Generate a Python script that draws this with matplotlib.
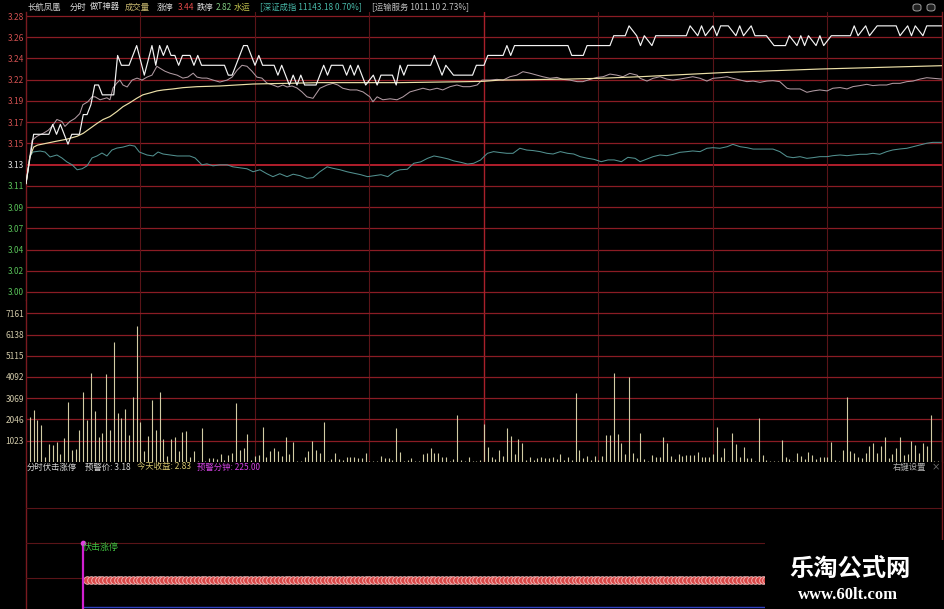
import matplotlib.pyplot as plt
from matplotlib.patches import Rectangle, FancyBboxPatch

plt.rcParams["font.family"] = ["Noto Sans CJK SC", "DejaVu Sans"]

W, H = 945, 609

# price axis: evenly spaced grid, labels as printed by the terminal
PRICE_LABELS = ["3.28", "3.26", "3.24", "3.22", "3.19", "3.17", "3.15",
                "3.13", "3.11", "3.09", "3.07", "3.04", "3.02", "3.00"]
PREV_CLOSE_ROW = 7
VOL_LABELS = [1023, 2046, 3069, 4092, 5115, 6138, 7161]

# last price (minute, price)
PRICE_T = [0, 2, 6, 7, 8, 9, 10, 11, 12, 14, 15, 16, 17, 18, 19, 20, 23, 24, 25, 27,
           29, 31, 33, 34, 35, 36, 37, 38, 39, 40, 41, 43, 44, 45, 46, 52, 53, 54, 57, 58,
           59, 60, 61, 62, 65, 66, 67, 68, 69, 70, 71, 72, 73, 76, 78, 79, 80, 83, 84, 85,
           86, 87, 88, 89, 91, 92, 93, 96, 97, 98, 99, 100, 106, 107, 108, 109, 110, 112, 117, 118,
           120, 121, 125, 126, 127, 128, 142, 143, 146, 147, 153, 154, 157, 158, 160, 161, 162, 164, 165, 173,
           174, 176, 177, 178, 180, 181, 182, 184, 186, 187, 188, 190, 191, 194, 196, 199, 200, 202, 203, 204,
           205, 207, 208, 209, 211, 216, 217, 218, 220, 221, 223, 228, 229, 231, 232, 233, 235, 236, 240]
PRICE = [3.11, 3.16, 3.16, 3.17, 3.16, 3.17, 3.16, 3.15, 3.16, 3.16, 3.18, 3.18, 3.19, 3.21, 3.21, 3.20, 3.20, 3.24, 3.23, 3.23,
         3.25, 3.22, 3.25, 3.23, 3.25, 3.24, 3.25, 3.24, 3.24, 3.23, 3.24, 3.24, 3.23, 3.24, 3.23, 3.23, 3.22, 3.22, 3.25, 3.25,
         3.24, 3.23, 3.24, 3.23, 3.23, 3.22, 3.23, 3.22, 3.21, 3.22, 3.21, 3.22, 3.21, 3.21, 3.23, 3.22, 3.23, 3.23, 3.22, 3.23,
         3.22, 3.23, 3.22, 3.21, 3.22, 3.21, 3.22, 3.22, 3.21, 3.23, 3.22, 3.23, 3.23, 3.24, 3.23, 3.22, 3.23, 3.22, 3.22, 3.23,
         3.23, 3.24, 3.24, 3.25, 3.24, 3.25, 3.25, 3.24, 3.24, 3.25, 3.25, 3.26, 3.26, 3.27, 3.26, 3.25, 3.26, 3.25, 3.26, 3.26,
         3.27, 3.26, 3.27, 3.26, 3.27, 3.26, 3.27, 3.27, 3.26, 3.27, 3.26, 3.27, 3.26, 3.26, 3.25, 3.25, 3.26, 3.25, 3.26, 3.25,
         3.26, 3.25, 3.26, 3.25, 3.26, 3.26, 3.27, 3.26, 3.27, 3.26, 3.27, 3.27, 3.26, 3.27, 3.26, 3.27, 3.26, 3.27, 3.27]

# average price line
AVG_T = [0, 1, 2, 3, 5.5, 8, 10.7, 13.4, 15, 16.8, 18.6, 20.2, 22, 23.8, 25.4, 27.2, 29, 30.6, 32.5, 34.3,
         36, 38.5, 41.1, 44.8, 50.8, 59.5, 68.4, 77, 98, 115.5, 119.7, 124.2, 141.7, 150.4, 160.9, 183.7, 208, 240]
AVG = [3.110, 3.137, 3.147, 3.149, 3.151, 3.153, 3.155, 3.158, 3.161, 3.166, 3.171, 3.175, 3.178, 3.183, 3.188, 3.192,
       3.1965, 3.200, 3.202, 3.204, 3.205, 3.206, 3.2073, 3.2083, 3.209, 3.211, 3.2117, 3.2124, 3.2124, 3.2134, 3.2137,
       3.215, 3.216, 3.2168, 3.2184, 3.2228, 3.2262, 3.2296]

# sector index overlay (运输服务)
SECTOR_T = [0, 1.6, 2.9, 4.5, 5.8, 6.8, 8.1, 9.4, 10.2, 11.5, 12.8, 14.1, 14.9, 16.2, 17.3, 18.1, 19.4, 21.2, 22, 22.8,
            23.8, 24.6, 25.4, 26.5, 27.8, 29.1, 30.4, 31.7, 33, 34.3, 35.1, 36.4, 37.7, 39.6, 41.1, 42.4, 43.8, 44.8, 46.1, 47.4,
            49, 50.8, 52.7, 54, 55.3, 56.6, 57.9, 59.2, 60.5, 61.8, 63.1, 64.7, 66, 67.3, 68.4, 69.7, 71, 72.3, 73.6, 75.2,
            77, 78.9, 80.4, 81.7, 83, 84.9, 86.7, 88.3, 90.1, 90.9, 92, 93.5, 95.4, 97.2, 98.8, 100.6, 102.4, 104, 105.8, 107.7,
            109.2, 111.1, 112.9, 114.5, 116.3, 118.2, 119.5, 121.6, 123.4, 125, 126.8, 128.6, 130.2, 132, 133.9, 135.4, 137.3, 139.1, 140.7, 142.5,
            144.4, 145.9, 147.8, 149.6, 151.2, 153, 154.8, 156.4, 158.2, 160.1, 160.9, 162.7, 164.3, 166.1, 167.9, 169.5, 171.3, 173.2, 174.7, 176.6,
            178.4, 180, 181.8, 183.7, 185.2, 187.1, 188.9, 190.5, 192.3, 194.1, 195.7, 197.5, 199.4, 200.2, 202.8, 204.6, 206.2, 208, 209.9, 211.4,
            213.3, 215.1, 216.7, 218.5, 220.3, 221.9, 223.7, 225.5, 227.1, 229, 230.8, 232.4, 234.2, 236, 237.6, 240]
SECTOR = [3.110, 3.154, 3.158, 3.161, 3.164, 3.168, 3.175, 3.173, 3.168, 3.173, 3.176, 3.181, 3.190, 3.193, 3.198, 3.198, 3.195, 3.197, 3.195, 3.207,
          3.212, 3.215, 3.210, 3.208, 3.215, 3.217, 3.215, 3.218, 3.220, 3.229, 3.227, 3.224, 3.222, 3.220, 3.217, 3.218, 3.222, 3.218, 3.217, 3.217,
          3.215, 3.213, 3.215, 3.218, 3.225, 3.230, 3.229, 3.224, 3.218, 3.217, 3.212, 3.210, 3.208, 3.210, 3.208, 3.209, 3.207, 3.203, 3.198, 3.1965,
          3.2067, 3.210, 3.2117, 3.210, 3.2067, 3.205, 3.205, 3.203, 3.198, 3.193, 3.198, 3.195, 3.196, 3.195, 3.198, 3.203, 3.205, 3.2067, 3.205, 3.2067,
          3.205, 3.2083, 3.210, 3.2083, 3.2083, 3.210, 3.215, 3.215, 3.2157, 3.215, 3.2184, 3.220, 3.2235, 3.222, 3.220, 3.2184, 3.2168, 3.2177, 3.2157, 3.215,
          3.2134, 3.2134, 3.2157, 3.2177, 3.2184, 3.2211, 3.220, 3.2184, 3.2218, 3.220, 3.2168, 3.214, 3.2168, 3.2184, 3.216, 3.215, 3.216, 3.2174, 3.2184, 3.2168,
          3.214, 3.2168, 3.2174, 3.2184, 3.2168, 3.215, 3.2134, 3.214, 3.2127, 3.214, 3.2144, 3.2134, 3.2067, 3.206, 3.206, 3.2026, 3.204, 3.205, 3.204, 3.2067,
          3.2074, 3.206, 3.2084, 3.2094, 3.2107, 3.2094, 3.210, 3.210, 3.2117, 3.2117, 3.2134, 3.214, 3.216, 3.2174, 3.2168, 3.216]

# 深证成指 overlay
SZ_T = [0, 1, 1.8, 3.7, 5, 6.3, 8.1, 9.4, 10.7, 12.1, 13.4, 14.7, 16, 17.3, 18.6, 19.9, 21.2, 22.5, 23.8, 25.4,
        27.2, 28.5, 29.7, 31.7, 33.3, 34.6, 35.9, 37.7, 39.6, 41.1, 42.9, 44.3, 46.1, 47.4, 49, 50.8, 52.7, 54.2, 56, 57.9,
        59.5, 61.3, 63.1, 64.7, 66.5, 68.4, 70, 71.8, 73.6, 75.2, 77, 78.9, 80.4, 82.3, 84.1, 85.9, 87.7, 89.5, 91.2, 93,
        94.8, 96.5, 98, 99.9, 101.6, 103.4, 105.2, 106.9, 108.8, 110.6, 112.1, 114, 115.7, 117.3, 119.1, 119.9, 120.9, 122.5, 124.2, 126,
        127.6, 129.4, 131.2, 132.8, 134.7, 136.5, 138.1, 140, 141.9, 143.5, 145.2, 147.2, 148.8, 150.7, 152.5, 154.1, 156, 157.7, 159.6, 160.9,
        162.7, 164.3, 166.1, 167.9, 169.5, 171.3, 173.2, 174.7, 176.6, 178.4, 180, 181.8, 183.7, 185.2, 187.1, 188.9, 190.5, 192.3, 194.1, 195.7,
        197.5, 199.4, 201, 202.8, 204.6, 206.2, 208, 209.9, 211.4, 213.3, 215.1, 216.7, 218.5, 220.3, 221.9, 223.7, 225.5, 227.1, 229, 230.8,
        232.4, 234.2, 236, 237.6, 240]
SZ = [3.110, 3.137, 3.142, 3.143, 3.142, 3.137, 3.139, 3.136, 3.132, 3.129, 3.124, 3.125, 3.128, 3.136, 3.138, 3.141, 3.138, 3.144, 3.146, 3.147,
      3.149, 3.148, 3.142, 3.139, 3.138, 3.142, 3.140, 3.139, 3.138, 3.138, 3.138, 3.136, 3.129, 3.130, 3.128, 3.129, 3.129, 3.127, 3.126, 3.125,
      3.122, 3.124, 3.120, 3.117, 3.120, 3.117, 3.1195, 3.118, 3.1153, 3.116, 3.122, 3.127, 3.1255, 3.124, 3.122, 3.1205, 3.119, 3.117, 3.118, 3.119,
      3.117, 3.122, 3.124, 3.1245, 3.1306, 3.132, 3.1356, 3.138, 3.1366, 3.135, 3.133, 3.1315, 3.1298, 3.1306, 3.1339, 3.137, 3.1407, 3.1424, 3.1415, 3.1407,
      3.1407, 3.1458, 3.144, 3.1435, 3.1424, 3.1407, 3.140, 3.1424, 3.1407, 3.140, 3.1373, 3.1356, 3.1346, 3.1322, 3.134, 3.134, 3.1322, 3.1366, 3.1356, 3.1322,
      3.1349, 3.1373, 3.139, 3.1383, 3.1396, 3.1417, 3.1424, 3.1431, 3.1424, 3.1458, 3.1464, 3.1458, 3.1474, 3.1498, 3.1474, 3.1464, 3.145, 3.145, 3.145, 3.145,
      3.1424, 3.1373, 3.1363, 3.1373, 3.1356, 3.1363, 3.1373, 3.1373, 3.1383, 3.139, 3.1383, 3.139, 3.1397, 3.1397, 3.1407, 3.1397, 3.1424, 3.1441, 3.1451, 3.1458,
      3.1474, 3.1491, 3.1509, 3.1518, 3.1518]

# volume per minute, minutes 1..240
VOLUME = [2139, 2492, 2010, 1769, 241, 852, 804, 965, 370, 1158,
          2894, 563, 595, 1528, 3377, 2010, 4293, 2444, 1206, 1367,
          4229, 1528, 5789, 2332, 2090, 2525, 1286, 3136, 6545, 1930,
          531, 1238, 2975, 1528, 3345, 1077, 273, 1077, 1206, 531,
          1415, 1479, 209, 531, 48, 1640, 48, 161, 161, 113,
          370, 80, 322, 434, 2814, 563, 643, 1335, 80, 273,
          322, 1688, 209, 531, 643, 531, 273, 1206, 370, 965,
          48, 48, 241, 531, 1013, 563, 402, 1930, 48, 113,
          434, 113, 80, 241, 241, 241, 161, 161, 402, 48,
          48, 48, 273, 161, 161, 80, 1608, 482, 48, 80,
          161, 48, 48, 370, 434, 643, 402, 402, 241, 241,
          48, 113, 2251, 80, 48, 209, 48, 48, 80,
          1817, 724, 209, 113, 563, 273, 1608, 1238, 370, 1077,
          917, 80, 241, 80, 161, 209, 161, 161, 209, 113,
          370, 80, 209, 80, 3329, 563, 161, 273, 80, 273,
          80, 273, 1286, 1286, 4293, 1335, 917, 370, 4100, 402,
          161, 1367, 113, 48, 322, 209, 209, 1206, 917, 273,
          113, 370, 273, 322, 322, 322, 482, 241, 209, 209,
          370, 1688, 241, 643, 48, 1399, 852, 209, 724, 161,
          161, 48, 2090, 322, 80, 48, 48, 48, 1045, 209,
          113, 48, 402, 273, 113, 482, 322, 113, 209, 241,
          241, 965, 80, 48, 563, 3136, 531, 434, 241, 161,
          434, 756, 884, 434, 772, 1174, 161, 370, 643, 1174,
          322, 370, 1013, 804, 434, 917, 756, 2251, 48, 48,
          1447]
VOL_T = list(range(1, len(VOLUME) + 1))

SIGNAL_MINUTE = 15

GRID_H = "#8a1c24"
GRID_V = "#5a1418"
RED = "#d05050"
GREEN = "#58c058"


def rect(x0, y0, x1, y1):
    return [x0 / W, 1 - y1 / H, (x1 - x0) / W, (y1 - y0) / H]


def ftext(x, y, s, color, size=6, **kw):
    fig.text(x / W, 1 - y / H, s, color=color, fontsize=size, va="center", **kw)


fig = plt.figure(figsize=(W / 100, H / 100), dpi=100, facecolor="black")

ax_p = fig.add_axes(rect(26, 12, 942, 300))
ax_v = fig.add_axes(rect(26, 300, 942, 462))
ax_i = fig.add_axes(rect(26, 462, 942, 609))

for ax in (ax_p, ax_v, ax_i):
    ax.set_facecolor("black")
    ax.set_xlim(0, 240)
    ax.set_xticks([])
    ax.tick_params(length=0, pad=1.5)
    for s in ax.spines.values():
        s.set_visible(False)
    for xb in (0, 240):
        ax.axvline(xb, color="#7a1a20", lw=1.0, clip_on=False)

# ---- price panel
step = 0.28 / (len(PRICE_LABELS) - 1)
levels = [3.28 - k * step for k in range(len(PRICE_LABELS))]
ax_p.set_ylim(2.99188, 3.28406)
for k, lv in enumerate(levels):
    if k == PREV_CLOSE_ROW:
        ax_p.axhline(lv, color="#b01e2c", lw=1.4, zorder=1)
    else:
        ax_p.axhline(lv, color=GRID_H, lw=0.9, zorder=1)
ax_p.set_yticks(levels, PRICE_LABELS, fontsize=6)
for k, lab in enumerate(ax_p.get_yticklabels()):
    lab.set_color(RED if k < PREV_CLOSE_ROW else ("#e0e0e0" if k == PREV_CLOSE_ROW else GREEN))

for ax in (ax_p, ax_v):
    for m in range(30, 240, 30):
        if m == 120:
            ax.axvline(m, color="#a8202a", lw=1.0, zorder=1)
        else:
            ax.axvline(m, color=GRID_V, lw=0.8, zorder=1)

ax_p.plot(SZ_T, SZ, color="#52908f", lw=0.75, zorder=3)
ax_p.plot(SECTOR_T, SECTOR, color="#b09aa2", lw=0.75, zorder=3)
ax_p.plot(AVG_T, AVG, color="#ece0a8", lw=0.85, zorder=4)
ax_p.plot(PRICE_T, PRICE, color="#f4f4f4", lw=0.85, zorder=5)

# ---- volume panel
ax_v.set_ylim(-14, 7804)
for v in VOL_LABELS:
    ax_v.axhline(v, color=GRID_H, lw=0.9, zorder=1)
ax_v.set_yticks(VOL_LABELS, [str(v) for v in VOL_LABELS], fontsize=6, color="#d0c8a8")
ax_v.vlines(VOL_T, 0, VOLUME, color="#d2cca4", lw=0.8, zorder=3)

# ---- indicator panel
ax_i.set_ylim(609, 462)
ax_i.set_yticks([])
ax_i.axhline(508, color="#5a1418", lw=0.8)
ax_i.axhline(543, color="#5a1418", lw=0.8)
ax_i.axhline(578, color="#5a1418", lw=0.8)
chain_t = [t for t in VOL_T if t > SIGNAL_MINUTE]
ax_i.plot([SIGNAL_MINUTE, 240], [607, 607], color="#3040c0", lw=1.0)
ax_i.scatter(chain_t, [580] * len(chain_t), s=30, marker="o", facecolor="#d84848",
             edgecolor="#f4c0c0", linewidths=0.6, zorder=4)
ax_i.plot([SIGNAL_MINUTE, SIGNAL_MINUTE], [609, 542], color="#d020d0", lw=1.6, zorder=5)
ax_i.plot([SIGNAL_MINUTE], [543], marker="o", ms=3, color="#e040e0", zorder=5)
ax_i.text(SIGNAL_MINUTE, 547, "伏击涨停", color="#40c040", fontsize=6.5, va="center", ha="left", zorder=6)

# ---- header texts
hy = 7
ftext(28, hy, "长航凤凰", "#d0d0d0")
ftext(70, hy, "分时", "#e0e0e0")
ftext(90, hy, "做T神器", "#e0e0e0")
ftext(125, hy, "成交量", "#c8b870")
ftext(157, hy, "涨停", "#e0e0e0")
ftext(178, hy, "3.44", "#e04848")
ftext(197, hy, "跌停", "#e0e0e0")
ftext(216, hy, "2.82", "#80c880")
ftext(234, hy, "水运", "#c8c850")
ftext(260, hy, "[深证成指 11143.18 0.70%]", "#48b8a8")
ftext(372, hy, "[运输服务 1011.10 2.73%]", "#c0c0c0")
for ix in (913, 927):
    fig.add_artist(FancyBboxPatch((ix / W, 1 - 11 / H), 8 / W, 7 / H,
                                  boxstyle="round,pad=0.0,rounding_size=0.004",
                                  transform=fig.transFigure, facecolor="#202020",
                                  edgecolor="#a0a0a0", lw=0.7))

iy = 467
ftext(27, iy, "分时伏击涨停", "#d8d8d8")
ftext(85, iy, "预警价: 3.18", "#d8d8d8")
ftext(137, iy, "今天收益: 2.83", "#d8c870")
ftext(197, iy, "预警分钟: 225.00", "#d040e0")
ftext(893, iy, "右键设置", "#b0b0b0")
ftext(932, iy, "×", "#909090")

# ---- watermark
fig.add_artist(Rectangle((765 / W, 0), (W - 765) / W, 69 / H, transform=fig.transFigure,
                         facecolor="black", edgecolor="none", zorder=10))
fig.text(850 / W, 1 - 569 / H, "乐淘公式网", color="white", fontsize=17.5, fontweight="bold",
         ha="center", va="center", zorder=11)
fig.text(848 / W, 1 - 595 / H, "www.60lt.com", color="white", fontsize=12, fontweight="bold",
         family="Liberation Serif", ha="center", va="center", zorder=11)

fig.savefig("out.png", dpi=100, facecolor="black")
